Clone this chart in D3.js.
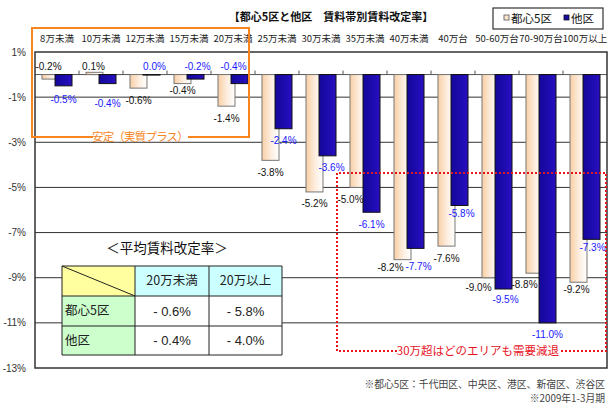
<!DOCTYPE html>
<html>
<head>
<meta charset="utf-8">
<script src="https://cdn.jsdelivr.net/npm/d3@7/dist/d3.min.js"></script>
<style>
  html, body { margin: 0; padding: 0; background: #fff; }
  svg { display: block; }
  text { font-family: "Liberation Sans", Arial, "Noto Sans CJK JP", sans-serif; }
  .jp { font-family: "Noto Sans CJK JP", sans-serif; }
</style>
</head>
<body>
<svg id="chart" width="614" height="417"></svg>
<script>
// ---------- data ----------
const categories = ["8万未満","10万未満","12万未満","15万未満","20万未満","25万未満","30万未満","35万未満","40万未満","40万台","50-60万台","70-90万台","100万以上"];
const tokyo5 = [-0.2, 0.1, -0.6, -0.4, -1.4, -3.8, -5.2, -5.0, -8.2, -7.6, -9.0, -8.8, -9.2];
const others = [-0.5, -0.4, 0.0, -0.2, -0.4, -2.4, -3.6, -6.1, -7.7, -5.8, -9.5, -11.0, -7.3];
const yTicks = [1, -1, -3, -5, -7, -9, -11, -13];
const seriesNames = ["都心5区", "他区"];
const tableCols = ["20万未満", "20万以上"];
const tableRows = ["都心5区", "他区"];
const tableVals = [["- 0.6%", "- 5.8%"], ["- 0.4%", "- 4.0%"]];

// ---------- layout ----------
const svg = d3.select("#chart");
const L = 35, R = 607, T = 52, B = 368;
const x = d3.scaleBand().domain(categories).range([L, R]).paddingInner(0).paddingOuter(0);
const y = d3.scaleLinear().domain([-13, 1]).range([B, T]);
const bw = x.bandwidth();
const barW = bw * 0.386;
const offP = bw * 0.159, offD = bw * 0.455;

const defs = svg.append("defs");
const gp = defs.append("linearGradient").attr("id", "gPale").attr("x1", 0).attr("x2", 1).attr("y1", 0).attr("y2", 0);
gp.append("stop").attr("offset", 0).attr("stop-color", "#f9cfa6");
gp.append("stop").attr("offset", 0.55).attr("stop-color", "#fdeee0");
gp.append("stop").attr("offset", 1).attr("stop-color", "#ffffff");
const gd = defs.append("linearGradient").attr("id", "gDark").attr("x1", 0).attr("x2", 1).attr("y1", 0).attr("y2", 0);
gd.append("stop").attr("offset", 0).attr("stop-color", "#14079a");
gd.append("stop").attr("offset", 0.6).attr("stop-color", "#1e0cb0");
gd.append("stop").attr("offset", 1).attr("stop-color", "#2a10c0");

// gridlines
svg.append("g").selectAll("line").data(yTicks.filter(t => t > -13 && t < 1)).join("line")
  .attr("x1", L).attr("x2", R).attr("y1", d => y(d)).attr("y2", d => y(d))
  .attr("stroke", "#333").attr("stroke-width", 1);

// y axis labels
svg.append("g").selectAll("text").data(yTicks).join("text")
  .attr("x", 26).attr("y", d => y(d)).attr("dy", "0.35em")
  .attr("text-anchor", "end").attr("font-size", 10).attr("fill", "#333")
  .text(d => d + "%");

// category axis at zero
svg.append("line").attr("x1", L).attr("x2", R).attr("y1", y(0)).attr("y2", y(0)).attr("stroke", "#555").attr("stroke-width", 1);
svg.append("g").selectAll("line").data(categories.slice(1)).join("line")
  .attr("x1", d => x(d)).attr("x2", d => x(d)).attr("y1", y(0)).attr("y2", y(0) - 4)
  .attr("stroke", "#555");

// category labels
svg.append("g").selectAll("text").data(categories).join("text")
  .attr("class", "jp")
  .attr("x", d => x(d) + bw / 2).attr("y", 39).attr("dy", "0.35em")
  .attr("text-anchor", "middle").attr("font-size", 9.5).attr("fill", "#222")
  .text(d => d);

// bars
const y0 = y(0);
svg.append("g").selectAll("rect").data(tokyo5).join("rect")
  .attr("x", (d, i) => x(categories[i]) + offP)
  .attr("y", d => Math.min(y(d), y0))
  .attr("width", barW)
  .attr("height", d => Math.max(Math.abs(y(d) - y0), 0.5))
  .attr("fill", "url(#gPale)").attr("stroke", "#777").attr("stroke-width", 1);
svg.append("g").selectAll("rect").data(others).join("rect")
  .attr("x", (d, i) => x(categories[i]) + offD)
  .attr("y", d => Math.min(y(d), y0))
  .attr("width", barW)
  .attr("height", d => Math.max(Math.abs(y(d) - y0), 0.5))
  .attr("fill", "url(#gDark)").attr("stroke", "#111").attr("stroke-width", 1);

// plot border
svg.append("rect").attr("x", L).attr("y", T).attr("width", R - L).attr("height", B - T)
  .attr("fill", "none").attr("stroke", "#333").attr("stroke-width", 1.5);

// value labels (label nudges: [dx, dy] relative to default "below bar end")
const nudgeP = {0: [-2, "above"], 1: [-1, "above"], 3: [0, -5], 7: [-8, 0], 8: [-12, -4], 10: [-12, -2], 11: [-10, -1], 12: [-2, -5]};
const nudgeD = {0: [0, 2], 1: [0, 8], 2: [3, "above"], 3: [2, "above"], 4: [-6, "above"], 6: [4, 0], 8: [3, 6], 9: [2, -4], 10: [2, -2], 12: [1, -4]};
function labelPos(v, i, off, nudge) {
  const cx = x(categories[i]) + off + barW / 2;
  const n = nudge[i] || [0, 0];
  let yy;
  if (n[1] === "above") yy = y0 - 8;
  else yy = y(v) + 12 + n[1];
  return [cx + n[0], yy];
}
const fmt = v => v.toFixed(1) + "%";
svg.append("g").selectAll("text").data(tokyo5).join("text")
  .attr("x", (d, i) => labelPos(d, i, offP, nudgeP)[0])
  .attr("y", (d, i) => labelPos(d, i, offP, nudgeP)[1])
  .attr("dy", "0.35em").attr("text-anchor", "middle").attr("font-size", 10).attr("fill", "#111")
  .text(fmt);
svg.append("g").selectAll("text").data(others).join("text")
  .attr("x", (d, i) => labelPos(d, i, offD, nudgeD)[0])
  .attr("y", (d, i) => labelPos(d, i, offD, nudgeD)[1])
  .attr("dy", "0.35em").attr("text-anchor", "middle").attr("font-size", 10).attr("fill", "#1a1aff")
  .text(fmt);

// title
svg.append("text").attr("class", "jp").attr("x", 331).attr("y", 17).attr("dy", "0.35em")
  .attr("text-anchor", "middle").attr("font-size", 11).attr("font-weight", "bold").attr("fill", "#111")
  .text("【都心5区と他区　賃料帯別賃料改定率】");

// legend
const lg = svg.append("g");
lg.append("rect").attr("x", 493).attr("y", 8).attr("width", 110).attr("height", 21)
  .attr("fill", "#fff").attr("stroke", "#333").attr("stroke-width", 1.2);
lg.append("rect").attr("x", 504).attr("y", 15).attr("width", 5).attr("height", 5).attr("fill", "#fde6cf").attr("stroke", "#555").attr("stroke-width", 0.8);
lg.append("text").attr("class", "jp").attr("x", 511).attr("y", 18.5).attr("dy", "0.35em").attr("font-size", 11.5).attr("fill", "#111").text(seriesNames[0]);
lg.append("rect").attr("x", 564).attr("y", 15).attr("width", 5).attr("height", 5).attr("fill", "#1a0aa8").attr("stroke", "#111").attr("stroke-width", 0.8);
lg.append("text").attr("class", "jp").attr("x", 571).attr("y", 18.5).attr("dy", "0.35em").attr("font-size", 11.5).attr("fill", "#111").text(seriesNames[1]);

// orange box
const orange = "#f7861f";
svg.append("path")
  .attr("d", "M93,137 L32,137 L32,28 L249,28 L249,137 L188,137")
  .attr("fill", "none").attr("stroke", orange).attr("stroke-width", 2);
svg.append("text").attr("class", "jp").attr("x", 140).attr("y", 137).attr("dy", "0.35em")
  .attr("text-anchor", "middle").attr("font-size", 11.5).attr("letter-spacing", -0.8).attr("fill", orange)
  .text("安定（実質プラス）");

// red dotted box
const red = "#e8141e";
svg.append("path")
  .attr("d", "M397,351 L337,351 L337,173 L606,173 L606,351 L560,351")
  .attr("fill", "none").attr("stroke", red).attr("stroke-width", 2).attr("stroke-dasharray", "2,2");
svg.append("text").attr("class", "jp").attr("x", 478).attr("y", 351).attr("dy", "0.35em")
  .attr("text-anchor", "middle").attr("font-size", 11.5).attr("fill", red)
  .text("30万超はどのエリアも需要減退");

// table
svg.append("text").attr("class", "jp").attr("x", 167).attr("y", 248).attr("dy", "0.35em")
  .attr("text-anchor", "middle").attr("font-size", 13.5).attr("fill", "#111")
  .text("＜平均賃料改定率＞");
const tx = [62, 135, 209, 282], ty = [266, 296, 326, 355];
const tg = svg.append("g");
tg.append("rect").attr("x", tx[0]).attr("y", ty[0]).attr("width", tx[1] - tx[0]).attr("height", ty[1] - ty[0]).attr("fill", "#ffffa0");
tableCols.forEach((c, j) => {
  tg.append("rect").attr("x", tx[j + 1]).attr("y", ty[0]).attr("width", tx[j + 2] - tx[j + 1]).attr("height", ty[1] - ty[0]).attr("fill", "#ccffff");
  tg.append("text").attr("class", "jp").attr("x", (tx[j + 1] + tx[j + 2]) / 2).attr("y", (ty[0] + ty[1]) / 2).attr("dy", "0.35em")
    .attr("text-anchor", "middle").attr("font-size", 12.5).attr("fill", "#222").text(c);
});
tableRows.forEach((r, i) => {
  tg.append("rect").attr("x", tx[0]).attr("y", ty[i + 1]).attr("width", tx[1] - tx[0]).attr("height", ty[i + 2] - ty[i + 1]).attr("fill", "#ccffcc");
  tg.append("text").attr("class", "jp").attr("x", tx[0] + 3).attr("y", (ty[i + 1] + ty[i + 2]) / 2).attr("dy", "0.35em")
    .attr("font-size", 12.5).attr("fill", "#222").text(r);
  tableVals[i].forEach((v, j) => {
    tg.append("rect").attr("x", tx[j + 1]).attr("y", ty[i + 1]).attr("width", tx[j + 2] - tx[j + 1]).attr("height", ty[i + 2] - ty[i + 1]).attr("fill", "#fff");
    tg.append("text").attr("x", (tx[j + 1] + tx[j + 2]) / 2).attr("y", (ty[i + 1] + ty[i + 2]) / 2).attr("dy", "0.35em")
      .attr("text-anchor", "middle").attr("font-size", 13).attr("fill", "#222").text(v);
  });
});
// table grid lines
tx.forEach(xx => tg.append("line").attr("x1", xx).attr("x2", xx).attr("y1", ty[0]).attr("y2", ty[3]).attr("stroke", "#222"));
ty.forEach(yy => tg.append("line").attr("x1", tx[0]).attr("x2", tx[3]).attr("y1", yy).attr("y2", yy).attr("stroke", "#222"));
tg.append("line").attr("x1", tx[0]).attr("y1", ty[0]).attr("x2", tx[1]).attr("y2", ty[1]).attr("stroke", "#222");

// footnotes
svg.append("text").attr("class", "jp").attr("x", 605).attr("y", 385).attr("dy", "0.35em")
  .attr("text-anchor", "end").attr("font-size", 9.8).attr("fill", "#444")
  .text("※都心5区：千代田区、中央区、港区、新宿区、渋谷区");
svg.append("text").attr("class", "jp").attr("x", 605).attr("y", 399).attr("dy", "0.35em")
  .attr("text-anchor", "end").attr("font-size", 9.8).attr("fill", "#444")
  .text("※2009年1-3月期");
</script>
</body>
</html>
